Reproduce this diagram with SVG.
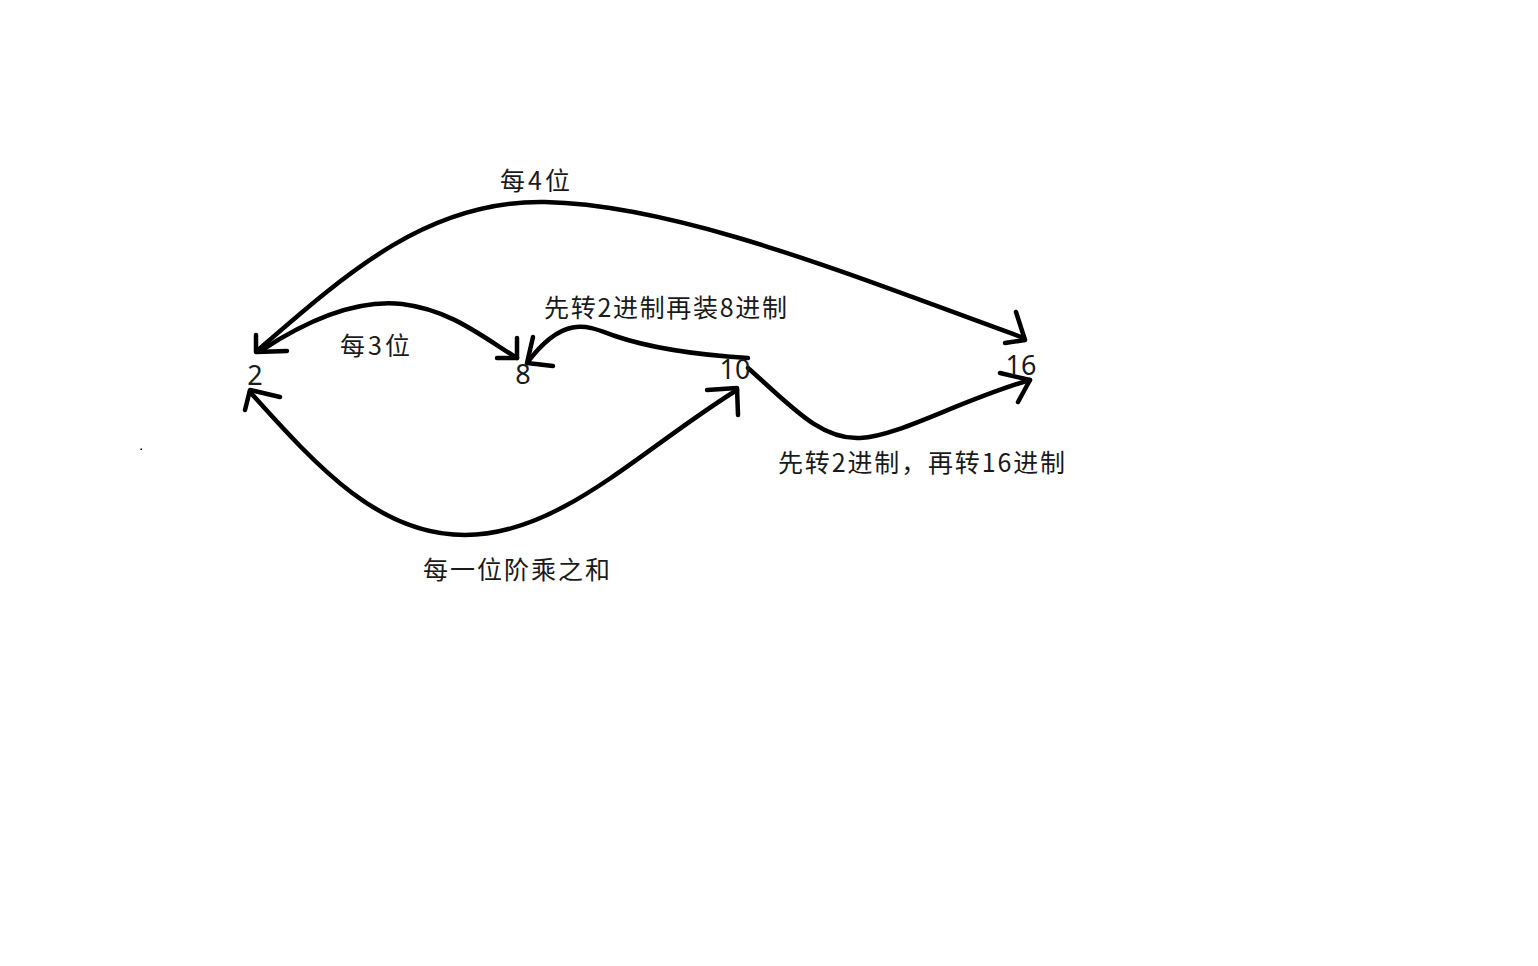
<svg xmlns="http://www.w3.org/2000/svg" width="1538" height="966" viewBox="0 0 1538 966">
<style>
.c{fill:none;stroke:#000;stroke-width:4.5;stroke-linecap:round;stroke-linejoin:round}
.t{font-family:"Microsoft YaHei","Noto Sans CJK SC",sans-serif;font-size:25px;fill:#1a1a1a}
.n{font-family:"Noto Sans","Liberation Sans",sans-serif;font-size:27px;fill:#1a1a1a}
</style>
<rect width="1538" height="966" fill="#fff"/>
<rect x="140.5" y="448.5" width="1.5" height="1.5" fill="#000"/>
<g id="connectors">
<path class="c" d="M258,350 C350,270 430,200 545,202 C680,205 850,275 1024,338"/>
<path class="c" d="M256,335 L256,352 L287,351"/>
<path class="c" d="M1016,312 L1025,340 L1005,343"/>
<path class="c" d="M262,350 C320,312 365,300 402,304 C450,310 480,335 517,358"/>
<path class="c" d="M517,338 L517,358 L497,358"/>
<path class="c" d="M748,358 C700,355 650,348 615,336 C590,327 565,312 527,363"/>
<path class="c" d="M533,337 L527,363 L553,366"/>
<path class="c" d="M748,368 C790,405 820,440 860,438 C900,436 960,400 1030,380"/>
<path class="c" d="M1000,373 L1030,380 L1018,402"/>
<path class="c" d="M250,392 C320,470 380,535 465,535 C560,535 640,450 737,390"/>
<path class="c" d="M280,397 L250,390 L245,410"/>
<path class="c" d="M707,390 L737,388 L738,415"/>
</g>
<g id="n2"><text class="n" x="255" y="385" text-anchor="middle">2</text></g>
<g id="n8"><text class="n" x="523" y="384" text-anchor="middle">8</text></g>
<g id="n10"><text class="n" x="735" y="379" text-anchor="middle">10</text></g>
<g id="n16"><text class="n" x="1021" y="375" text-anchor="middle">16</text></g>
<g id="labels">
<text class="t" x="500" y="190" textLength="70">每4位</text>
<text class="t" x="340" y="355" textLength="70">每3位</text>
<text class="t" x="544" y="317" textLength="243">先转2进制再装8进制</text>
<text class="t" x="778" y="472" textLength="287">先转2进制，再转16进制</text>
<text class="t" x="423" y="579" textLength="187">每一位阶乘之和</text>
</g>
</svg>
